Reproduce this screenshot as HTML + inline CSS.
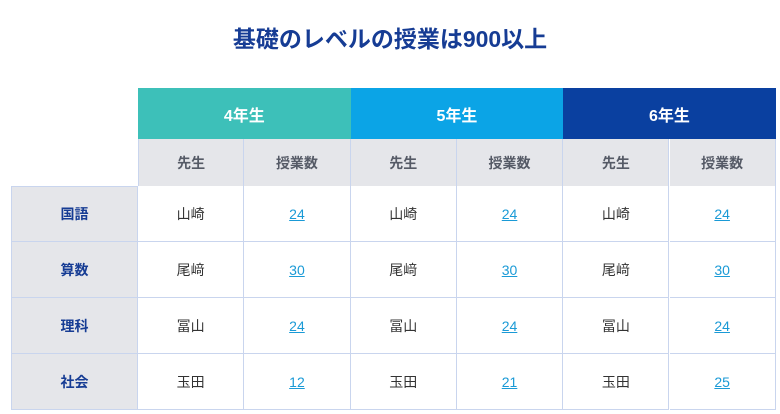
<!DOCTYPE html>
<html><head><meta charset="utf-8">
<style>
html,body{margin:0;padding:0;background:#fff;width:780px;height:414px;overflow:hidden;font-family:"Liberation Sans","Noto Sans CJK JP",sans-serif;}
#title{position:absolute;left:0;top:20px;width:780px;text-align:center;font-size:23px;font-weight:bold;color:#163c94;}
.c{position:absolute;box-sizing:border-box;display:flex;align-items:center;justify-content:center;font-size:14px;}
.g{color:#fff;font-weight:bold;font-size:16px;}
.s{background:#e5e6ea;color:#555a66;font-weight:bold;border-right:1px solid #c9d5ee;}
.r{background:#e5e6ea;color:#163c94;font-weight:bold;border:1px solid #c9d5ee;border-top:none;}
.d{background:#fff;color:#333;border-right:1px solid #c9d5ee;border-bottom:1px solid #c9d5ee;}
.d a{color:#1a9ad6;text-decoration:underline;}
</style></head><body>
<div id="title">基礎のレベルの授業は900以上</div>
<div id="t"></div>
<script>
const grades=["4年生","5年生","6年生"];
const gradeColors=["#3dc0b9","#0ba4e6","#0a40a0"];
const subHeaders=["先生","授業数"];
const subjects=["国語","算数","理科","社会"];
const teachers=["山崎","尾﨑","冨山","玉田"];
const counts=[[24,24,24],[30,30,30],[24,24,24],[12,21,25]];
const t=document.getElementById('t');
const X0=138,CW=106.3,Y0=88,GH=51,SH=47,RH=56,LX=11;
function cell(cls,x,y,w,h){const d=document.createElement('div');d.className='c '+cls;d.style.left=x+'px';d.style.top=y+'px';d.style.width=w+'px';d.style.height=h+'px';t.appendChild(d);return d;}
grades.forEach((g,i)=>{
 const d=cell('g',X0+i*2*CW,Y0,2*CW,GH);d.style.background=gradeColors[i];d.textContent=g;
 
 
 subHeaders.forEach((s,j)=>{
  const e=cell('s',X0+(i*2+j)*CW,Y0+GH,CW,SH);e.textContent=s;
  if(i==0&&j==0)e.style.borderLeft='1px solid #c9d5ee';
  
  
 });
});
const RY=Y0+GH+SH;
subjects.forEach((s,r)=>{
 const h=cell('r',LX,RY+r*RH,X0-LX,RH);h.textContent=s;
 if(r==0)h.style.borderTop='1px solid #c9d5ee';
 
 
 grades.forEach((g,i)=>{
  const a=cell('d',X0+i*2*CW,RY+r*RH,CW,RH);a.textContent=teachers[r];
  
  
  const b=cell('d',X0+(i*2+1)*CW,RY+r*RH,CW,RH);
  const l=document.createElement('a');l.href='#';l.textContent=counts[r][i];
  
  
  b.appendChild(l);
  
  
 });
});
</script>
</body></html>
